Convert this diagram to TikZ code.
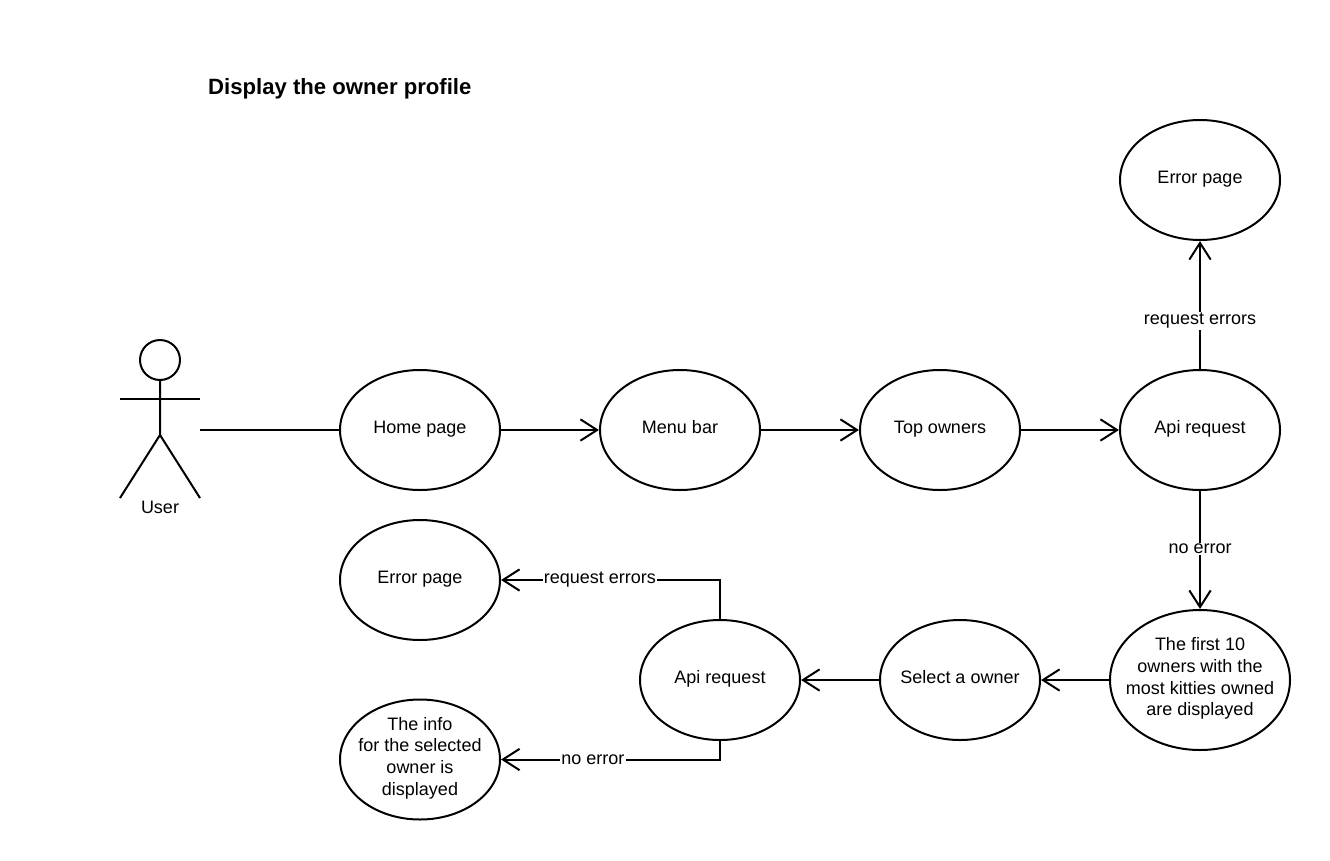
\documentclass[tikz,border=0pt]{standalone}
\usepackage{fontspec}
\setmainfont{Liberation Sans}
\usetikzlibrary{shapes.geometric,arrows.meta}
\tikzset{
  casetext/.style={align=center,inner sep=0pt,yshift=1pt},
  usecase/.style={draw,ellipse,line width=1.5pt,inner sep=0pt,outer sep=0pt,minimum width=120pt,minimum height=90pt,label={[casetext]center:{#1}}},
  conn/.style={draw,line width=1.5pt},
  flow/.style={conn,shorten >=0.8pt,-{Straight Barb[length=12.5pt,width=16pt,line width=1.5pt]}},
  flowlabel/.style={fill=white,inner sep=1pt},
}
\begin{document}
\begin{tikzpicture}[x=0.75pt,y=-0.75pt,font=\fontsize{13.5}{16.25}\selectfont]
\useasboundingbox (0,0) rectangle (1330,860);
\node[font=\fontsize{16.6}{20}\selectfont\bfseries,anchor=west] (title) at (203.5,89) {Display the owner profile};
% user
\node[draw,circle,line width=1.5pt,minimum size=30pt,inner sep=0pt,outer sep=0pt] (head) at (160,360) {};
\draw[conn] (head.south) -- (160,435) -- (120,498);
\draw[conn] (160,435) -- (200,498);
\draw[conn] (120,399) -- (200,399);
\node (user) at (160,507) {User};
\coordinate (hand) at (200,430);
% upper row
\node[usecase={\strut Home page}] (home) at (420,430) {};
\node[usecase={\strut Menu bar}] (menu) at (680,430) {};
\node[usecase={\strut Top owners}] (top) at (940,430) {};
\node[usecase={\strut Api request}] (api) at (1200,430) {};
\node[usecase={\strut Error page}] (err) at (1200,180) {};
% lower row
\node[usecase={The first 10\\owners with the\\most kitties owned\\are displayed},minimum width=135pt,minimum height=105pt] (first) at (1200,680) {};
\node[usecase={\strut Select a owner}] (select) at (960,680) {};
\node[usecase={\strut Api request}] (apilow) at (720,680) {};
\node[usecase={\strut Error page}] (errlow) at (420,580) {};
\node[usecase={The info\\for the selected\\owner is\\displayed}] (info) at (420,759.5) {};
% connectors
\draw[conn] (hand) -- (home);
\draw[flow] (home) -- (menu);
\draw[flow] (menu) -- (top);
\draw[flow] (top) -- (api);
\draw[flow] (api) -- node[flowlabel,pos=0.38] (lblerr) {request errors} (err);
\draw[flow] (api) -- node[flowlabel,pos=0.49] (lblok) {no error} (first);
\draw[flow] (first) -- (select);
\draw[flow] (select) -- (apilow);
\draw[flow] (apilow.north) |- node[flowlabel,pos=0.773] (lblerrlow) {request errors} (errlow.east);
\draw[flow] (apilow.south) |- node[flowlabel,pos=0.789] (lbloklow) {no error} (info.east);
\end{tikzpicture}
\end{document}
